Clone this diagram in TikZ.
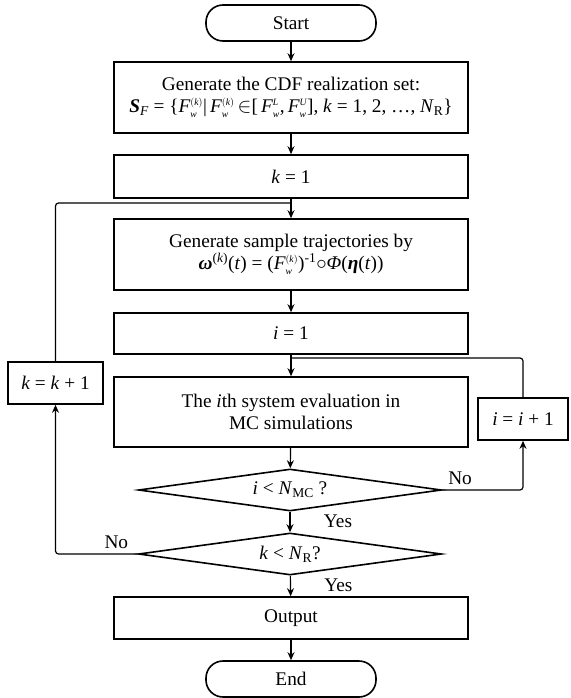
\documentclass[tikz,border=0pt]{standalone}
\usepackage{amsmath}
\usepackage{fontspec}
\setmainfont{Liberation Serif}
\usetikzlibrary{shapes.geometric,arrows.meta}

\begin{document}
\begin{tikzpicture}
    [x=1pt,y=-1pt,
    font=\fontsize{19.3}{22}\selectfont,
    term/.style={shape=rectangle,rounded corners=17pt,draw=black,line width=1.6pt,minimum width=170pt,minimum height=36pt},
    proc/.style={shape=rectangle,draw=black,line width=1.6pt,minimum width=354pt,align=center,inner sep=2pt},
    inc/.style={shape=rectangle,draw=black,line width=1.6pt,minimum height=42pt},
    dec/.style={shape=diamond,draw=black,line width=1.6pt,aspect=7,minimum width=303pt,minimum height=42pt,inner sep=1pt},
    arc/.style={->,>={Stealth[length=8pt,width=7pt]},line width=1.2pt},
    edge/.style={line width=1.2pt,rounded corners=3pt}]

    \useasboundingbox (0,0) rectangle (570,698);

    \node (start) [term] at (291,23) {Start};
    \node (cdf) [proc,minimum height=71pt] at (291,97.5)
      {Generate the CDF realization set:\\
       \textbf{\textit{S}}\textsubscript{\textit{F}} = \{$\textit{F}^{\scriptscriptstyle(\textit{k})}_{\scriptscriptstyle\textit{w}}$|\,$\textit{F}^{\scriptscriptstyle(\textit{k})}_{\scriptscriptstyle\textit{w}}$\,$\in$[\,$\textit{F}^{\scriptscriptstyle\textit{L}}_{\scriptscriptstyle\textit{w}}$,\,$\textit{F}^{\scriptscriptstyle\textit{U}}_{\scriptscriptstyle\textit{w}}$], \textit{k} = 1, 2, …, \textit{N}\textsubscript{R}\}};
    \node (k1) [proc,minimum height=43pt] at (291,176.5) {\textit{k} = 1};
    \node (traj) [proc,minimum height=71pt] at (291,254.5)
      {Generate sample trajectories by\\
       \textbf{\textit{ω}}\textsuperscript{(\textit{k})}(\textit{t}) = ($\textit{F}^{\scriptscriptstyle(\textit{k})}_{\scriptscriptstyle\textit{w}}$)\textsuperscript{-1}$\circ$\textit{Φ}(\textbf{\textit{η}}(\textit{t}))};
    \node (i1) [proc,minimum height=41pt] at (291,333.5) {\textit{i} = 1};
    \node (mc) [proc,minimum height=70pt] at (291,412)
      {The \textit{i}th system evaluation in\\MC simulations};
    \node (dmc) [dec] at (290,490) {\textit{i} < \textit{N}\textsubscript{MC} ?};
    \node (dr) [dec] at (290,554) {\textit{k} < \textit{N}\textsubscript{R}?};
    \node (out) [proc,minimum height=42pt] at (291,618) {Output};
    \node (end) [term] at (291,679) {End};
    \node (kinc) [inc,minimum width=95pt] at (55.5,383) {\textit{k} = \textit{k} + 1};
    \node (iinc) [inc,minimum width=90pt] at (523,419) {\textit{i} = \textit{i} + 1};

    \coordinate (kjoin) at (291,203);
    \coordinate (ijoin) at (291,358);

    \draw [arc] (start) -- (cdf);
    \draw [arc] (cdf) -- (k1);
    \draw [arc] (k1) -- (traj);
    \draw [arc] (traj) -- (i1);
    \draw [arc] (i1) -- (mc);
    \draw [arc] (mc) -- (dmc);
    \draw [arc] (dmc) -- (dr) node[pos=0.45,right=30pt] {Yes};
    \draw [arc] (dr) -- (out) node[pos=0.45,right=30pt] {Yes};
    \draw [arc] (out) -- (end);

    \draw [arc,rounded corners=3pt] (dmc.east) -| (iinc.south) node[pos=0.11,above=1pt] {No};
    \draw [arc,rounded corners=3pt] (dr.west) -| (kinc.south) node[pos=0.13,above=1pt] {No};
    \draw [edge] (iinc.north) |- (ijoin);
    \draw [edge] (kinc.north) |- (kjoin);

\end{tikzpicture}
\end{document}
